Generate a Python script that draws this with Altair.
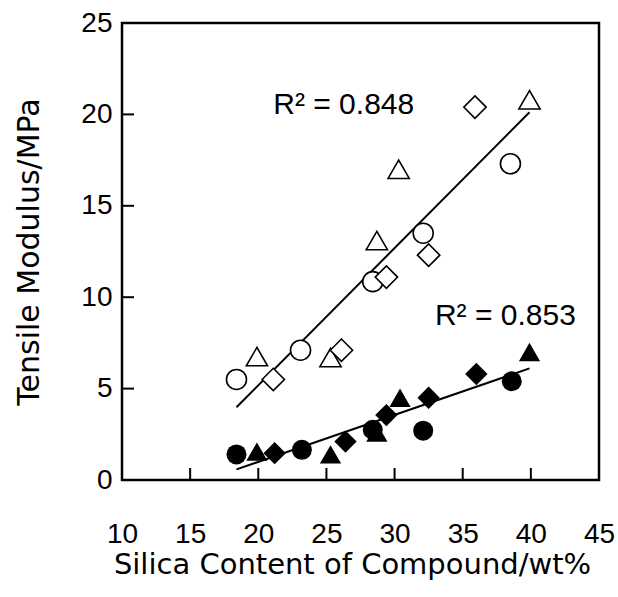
import altair as alt
import pandas as pd

# ---- data ----
circle_open_x = [18.4, 23.1, 28.4, 32.1, 38.5]
circle_open_y = [5.5, 7.1, 10.85, 13.5, 17.3]
triangle_open_x = [19.9, 25.3, 28.7, 30.3, 39.9]
triangle_open_y = [6.75, 6.7, 13.1, 17.0, 20.8]
diamond_open_x = [21.1, 26.1, 29.4, 32.5, 35.9]
diamond_open_y = [5.5, 7.1, 11.1, 12.3, 20.4]

circle_filled_x = [18.4, 23.2, 28.4, 32.1, 38.6]
circle_filled_y = [1.4, 1.65, 2.75, 2.7, 5.4]
triangle_filled_x = [19.9, 25.3, 28.7, 30.4, 39.9]
triangle_filled_y = [1.55, 1.4, 2.6, 4.5, 7.0]
diamond_filled_x = [21.2, 26.4, 29.4, 32.5, 36.0]
diamond_filled_y = [1.47, 2.1, 3.55, 4.5, 5.8]

ann_x = [21.1, 32.96]
ann_y = [20.0, 8.48]
ann_text = ["R² = 0.848", "R² = 0.853"]

x_ticks = [10, 15, 20, 25, 30, 35, 40, 45]
y_ticks = [0, 5, 10, 15, 20, 25]
x_inner = [15, 20, 25, 30, 35, 40]
y_inner = [5, 10, 15, 20]

rows = []
for grp, shape, xs, ys in [
    ("open", "circle", circle_open_x, circle_open_y),
    ("open", "triangle", triangle_open_x, triangle_open_y),
    ("open", "diamond", diamond_open_x, diamond_open_y),
    ("filled", "circle", circle_filled_x, circle_filled_y),
    ("filled", "triangle", triangle_filled_x, triangle_filled_y),
    ("filled", "diamond", diamond_filled_x, diamond_filled_y),
]:
    for xv, yv in zip(xs, ys):
        rows.append({"x": xv, "y": yv, "group": grp, "shape": shape})
df = pd.DataFrame(rows)
ann = pd.DataFrame({"x": ann_x, "y": ann_y, "t": ann_text})
xt = pd.DataFrame({"x": x_inner})
yt = pd.DataFrame({"y": y_inner})

W, H = 477, 457

xaxis = alt.Axis(values=x_ticks, ticks=False, domain=False, grid=False,
                 labelFont="Liberation Sans", labelFontSize=28,
                 labelColor="black", labelPadding=40, labelOverlap=False, labelFlush=False,
                 title="Silica Content of Compound/wt%", titleFont="DejaVu Sans",
                 titleFontSize=29, titleFontWeight="normal", titleColor="black",
                 titleX=230, titleY=93, titleBaseline="alphabetic")
yaxis = alt.Axis(values=y_ticks, ticks=False, domain=False, grid=False,
                 labelFont="Liberation Sans", labelFontSize=28,
                 labelColor="black", labelPadding=10, labelOverlap=False, labelFlush=False,
                 title="Tensile Modulus/MPa", titleFont="DejaVu Sans",
                 titleFontSize=30, titleFontWeight="normal", titleColor="black",
                 titleX=-84, titleBaseline="alphabetic")

xs = alt.Scale(domain=[10, 45], nice=False, zero=False)
ys = alt.Scale(domain=[0, 25], nice=False)
X = alt.X("x:Q", scale=xs, axis=xaxis)
Y = alt.Y("y:Q", scale=ys, axis=yaxis)

shape_scale = alt.Scale(domain=["circle", "triangle", "diamond"],
                        range=["circle", "triangle-up", "diamond"])
size_scale = alt.Scale(domain=["circle", "triangle", "diamond"], range=[400, 500, 400])

base = alt.Chart(df)

lines = base.transform_regression("x", "y", groupby=["group"]).mark_line(
    color="black", strokeWidth=2).encode(x=X, y=Y, detail="group:N")

open_pts = base.transform_filter(alt.datum.group == "open").mark_point(
    filled=True, fill="white", stroke="black", strokeWidth=1.6, opacity=1).encode(
    x=X, y=Y,
    shape=alt.Shape("shape:N", scale=shape_scale, legend=None),
    size=alt.Size("shape:N", scale=size_scale, legend=None))

filled_pts = base.transform_filter(alt.datum.group == "filled").mark_point(
    filled=True, color="black", opacity=1).encode(
    x=X, y=Y,
    shape=alt.Shape("shape:N", scale=shape_scale, legend=None),
    size=alt.Size("shape:N", scale=size_scale, legend=None))

texts = alt.Chart(ann).mark_text(align="left", baseline="alphabetic",
                                 font="Liberation Sans", fontSize=30, color="black").encode(
    x=X, y=Y, text="t:N")

xtick = alt.Chart(xt).mark_rule(color="black", strokeWidth=2).encode(
    x=X, y=alt.value(H), y2=alt.value(H - 12))
ytick = alt.Chart(yt).mark_rule(color="black", strokeWidth=2).encode(
    y=Y, x=alt.value(0), x2=alt.value(12))

chart = alt.layer(lines, open_pts, filled_pts, texts, xtick, ytick).properties(
    width=W, height=H,
    autosize=alt.AutoSizeParams(type="none"),
    padding={"left": 122, "top": 23, "right": 19, "bottom": 117},
    background="white",
).configure_view(stroke="black", strokeWidth=2.5)

chart.save("out.html", embed_options={"renderer": "svg", "actions": False})
